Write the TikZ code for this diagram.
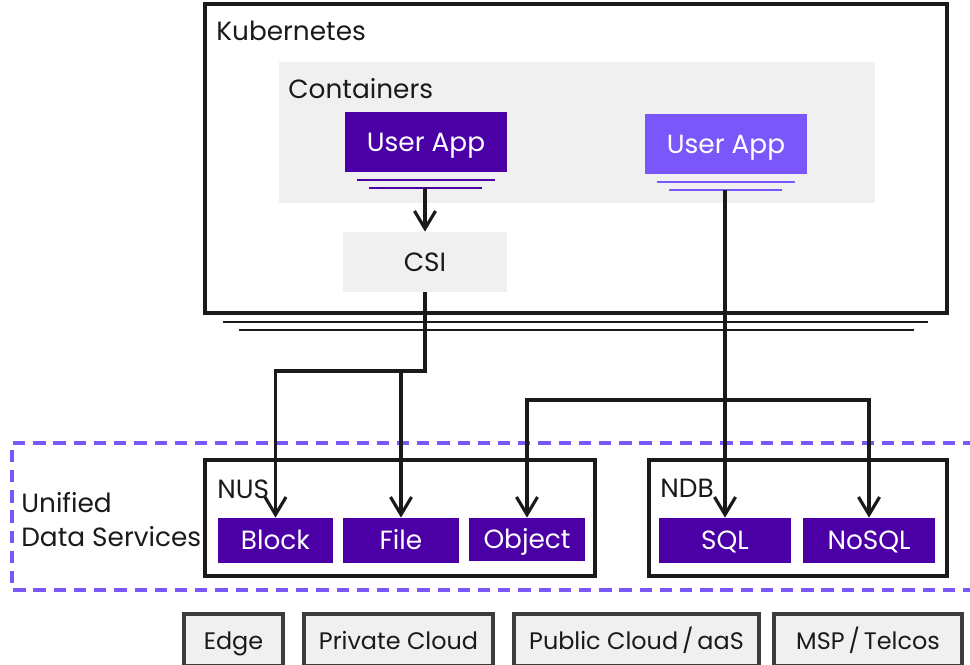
\documentclass[tikz,border=0pt]{standalone}
\usepackage{fontspec}
\setmainfont{Poppins}
\usetikzlibrary{arrows.meta}
\definecolor{udsdark}{HTML}{4B00A6}
\definecolor{udslight}{HTML}{7A57FA}
\definecolor{udsgray}{HTML}{F0F0F0}
\definecolor{udsink}{HTML}{1A1A1A}
\tikzset{
  lbl/.style={anchor=base west, text=udsink, inner sep=0pt, font=\fontsize{15}{19}\selectfont},
  frame/.style={draw=udsink, line width=1.9pt, inner sep=0pt},
  boxtext/.style={inner sep=0pt, text height=10.5pt, text depth=-1pt, font=\fontsize{15}{18}\selectfont},
  appbox/.style={boxtext, text=white, minimum width=3.24cm, minimum height=1.2cm},
  svcbox/.style={boxtext, fill=udsdark, text=white, minimum height=0.9cm},
  sitebox/.style={boxtext, draw=udsink!85, fill=udsgray, line width=1.8pt, minimum height=1.04cm, text=udsink, font=\fontsize{13.6}{16}\selectfont},
  uline/.style={line width=1.6pt},
  arr/.style={draw=udsink, line width=1.8pt, -{Straight Barb[length=10pt, width=12pt, line width=1.8pt]}}
}
\begin{document}
\begin{tikzpicture}[x=0.02cm, y=-0.02cm]
\useasboundingbox (0,0) rectangle (970,665);

\node[frame, minimum width=14.84cm, minimum height=6.18cm] (kube) at (576,158.5) {};
\node[lbl] (kubelbl) at (216,41) {Kubernetes};
\node[fill=udsgray, inner sep=0pt, minimum width=11.92cm, minimum height=2.82cm] (ctr) at (577,132.5) {};
\node[lbl] (ctrlbl) at (288,99) {Containers};
\node[appbox, fill=udsdark] (app1) at (426,142) {User App};
\node[appbox, fill=udslight] (app2) at (726,144) {User App};
\draw[uline, udsdark] (357,180) -- (495,180) (369,188) -- (482,188);
\draw[uline, udslight] (657,182) -- (795,182) (669,190) -- (782,190);
\coordinate (app1base) at (425,188);
\coordinate (app2base) at (725,190);
\node[boxtext, fill=udsgray, minimum width=3.28cm, minimum height=1.2cm, text=udsink] (csi) at (425,262) {CSI};
\draw[udsink, line width=1.3pt] (223,322) -- (928,322) (239,330) -- (914,330);

\draw[udslight, line width=1.9pt, dash pattern=on 7pt off 4.5pt] (975,443) -- (12,443) -- (12,590) -- (975,590);
\node[lbl, align=left] (udslbl) at (21,546) {Unified\\Data Services};

\node[frame, minimum width=7.8cm, minimum height=2.32cm] (nus) at (400,518) {};
\node[lbl] (nuslbl) at (217,498) {NUS};
\node[svcbox, minimum width=2.3cm] (block) at (275.5,540.5) {Block};
\node[svcbox, minimum width=2.32cm] (file) at (401,540.5) {File};
\node[svcbox, minimum width=2.32cm, minimum height=0.86cm] (object) at (527,539.5) {Object};

\node[frame, minimum width=5.96cm, minimum height=2.32cm] (ndb) at (798,518) {};
\node[lbl] (ndblbl) at (660,497) {NDB};
\node[svcbox, minimum width=2.64cm] (sql) at (725,540.5) {SQL};
\node[svcbox, minimum width=2.64cm] (nosql) at (869,540.5) {NoSQL};

\node[sitebox, minimum width=1.98cm] (edge) at (233.5,640) {Edge};
\node[sitebox, minimum width=3.78cm] (private) at (398.5,640) {Private Cloud};
\node[sitebox, minimum width=4.9cm] (public) at (636.5,640) {Public Cloud\,/\,aaS};
\node[sitebox, minimum width=3.76cm] (msp) at (868,640) {MSP\,/\,Telcos};

\coordinate (csisplit) at (401,371);
\coordinate (dbsplit) at (725,400);
\draw[arr] (app1base) -- (csi.north);
\draw[arr] (csi.south) |- (csisplit) -- (file.north);
\draw[arr] (csisplit) -| (block.north);
\draw[arr] (app2base) -- (sql.north);
\draw[arr] (dbsplit) -| (object.north);
\draw[arr] (dbsplit) -| (nosql.north);
\end{tikzpicture}
\end{document}
